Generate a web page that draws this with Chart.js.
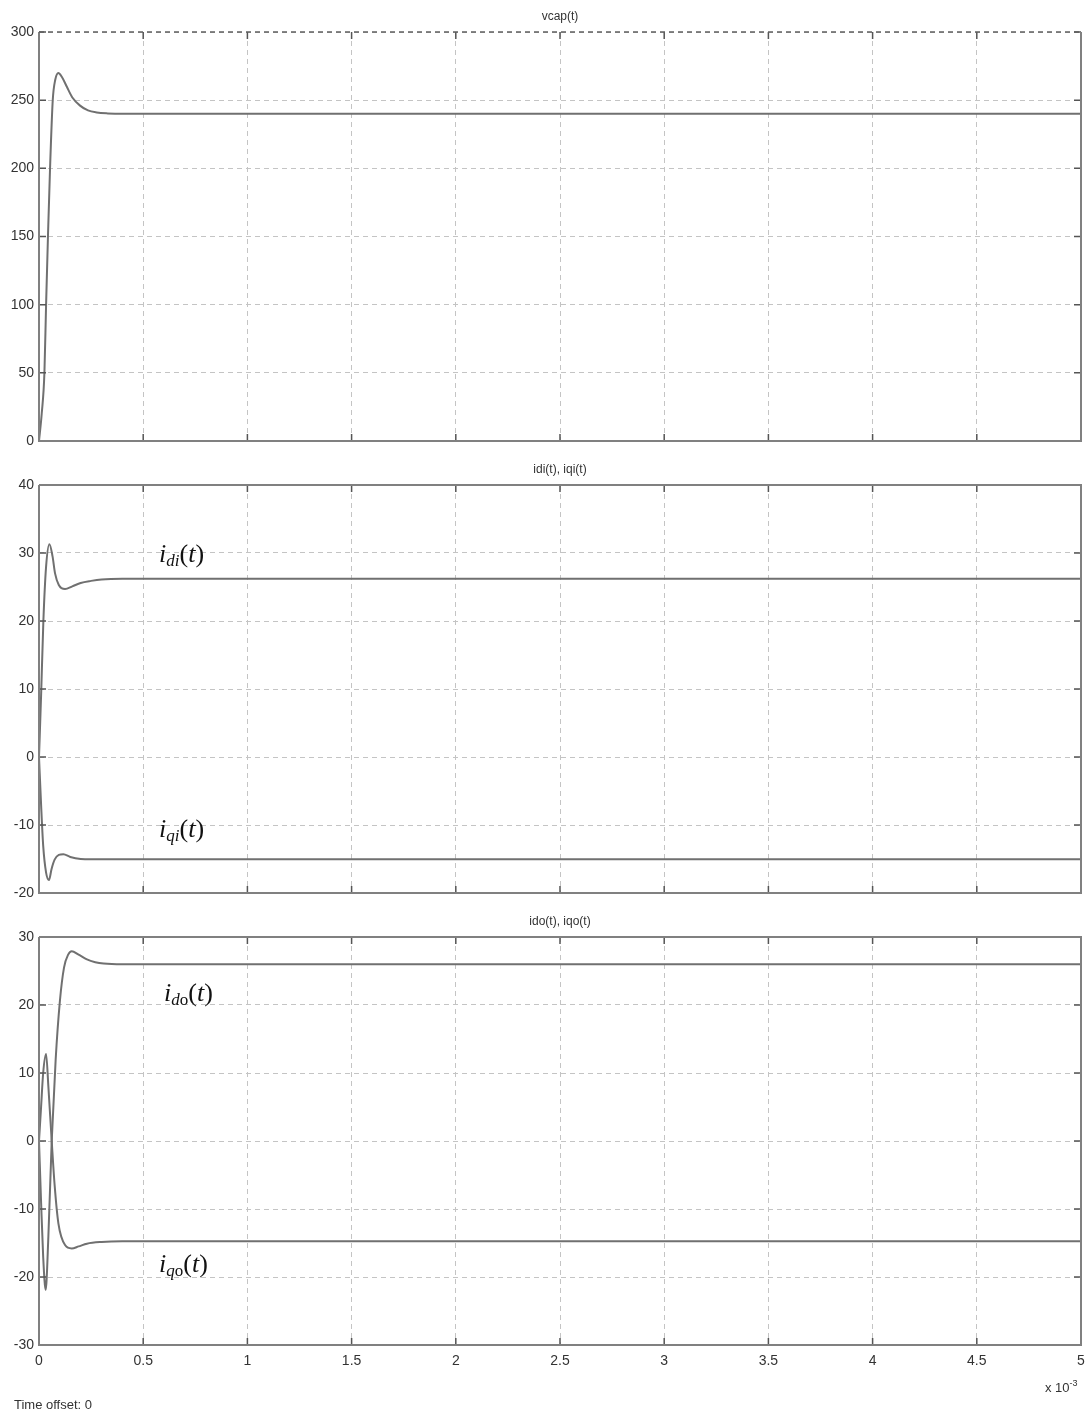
<!DOCTYPE html>
<html>
<head>
<meta charset="utf-8">
<script src="https://cdn.jsdelivr.net/npm/chart.js@4.4.1/dist/chart.umd.min.js"></script>
<style>
  body { margin: 0; width: 1089px; height: 1416px; background: #fff; position: relative; overflow: hidden;
         font-family: "Liberation Sans", Arial, sans-serif; color: #333; }
  .panel { position: absolute; left: 0; }
  .lbl { position: absolute; font-family: "Liberation Serif", "Times New Roman", serif; font-size: 26px;
         line-height: 26px; color: #111; white-space: nowrap; }
  .lbl i { font-style: italic; }
  .lbl sub { font-size: 17px; vertical-align: -4px; line-height: 0; }
  .note { position: absolute; font-size: 13px; color: #333; white-space: nowrap; }
  .note sup { font-size: 9px; vertical-align: 6px; line-height: 0; }
</style>
</head>
<body>
<div class="panel" style="top:0px"><canvas id="vcapChart" width="1089" height="460"></canvas></div>
<div class="panel" style="top:460px"><canvas id="iiChart" width="1089" height="450"></canvas></div>
<div class="panel" style="top:900px"><canvas id="ioChart" width="1089" height="516"></canvas></div>

<div class="lbl" style="left:159px; top:541px"><i>i<sub>di</sub></i>(<i>t</i>)</div>
<div class="lbl" style="left:159px; top:816px"><i>i<sub>qi</sub></i>(<i>t</i>)</div>
<div class="lbl" style="left:164px; top:980px"><i>i<sub>d</sub></i><sub>o</sub>(<i>t</i>)</div>
<div class="lbl" style="left:159px; top:1251px"><i>i<sub>q</sub></i><sub>o</sub>(<i>t</i>)</div>

<div class="note" style="left:1045px; top:1380px">x 10<sup>-3</sup></div>
<div class="note" style="left:14px; top:1397px">Time offset: 0</div>

<script>
// time axis is in ms (the "x 10^-3" under the last plot)
const xTickLabels = ['0', '0.5', '1', '1.5', '2', '2.5', '3', '3.5', '4', '4.5', '5'];

// vcap(t)
const vcapTime   = [0, 0.013, 0.026, 0.034, 0.043, 0.053, 0.066, 0.078, 0.093, 0.11, 0.133, 0.16, 0.197, 0.235, 0.277, 0.33, 0.4, 5];
const vcapValues = [0, 20, 50, 100, 150, 200, 250, 265, 270, 267, 260, 252, 246, 242.5, 241, 240.3, 240, 240];

// idi(t), iqi(t)
const idiTime   = [0, 0.01, 0.021, 0.034, 0.05, 0.065, 0.077, 0.095, 0.125, 0.16, 0.2, 0.25, 0.3, 0.4, 5];
const idiValues = [0, 9, 20, 28, 31.3, 29.5, 27, 25.3, 24.7, 25.1, 25.6, 25.9, 26.1, 26.2, 26.2];
const iqiTime   = [0, 0.01, 0.02, 0.034, 0.048, 0.06, 0.075, 0.095, 0.117, 0.15, 0.2, 0.25, 0.35, 5];
const iqiValues = [0, -7, -13, -17, -18.1, -16.5, -15.1, -14.4, -14.3, -14.7, -15, -15.05, -15.05, -15.05];

// ido(t), iqo(t)
const idoTime   = [0, 0.01, 0.02, 0.032, 0.045, 0.061, 0.08, 0.1, 0.12, 0.14, 0.157, 0.19, 0.23, 0.27, 0.31, 0.4, 5];
const idoValues = [0, -9, -17, -21.9, -14, 0, 12, 20.5, 25.5, 27.4, 27.9, 27.4, 26.7, 26.3, 26.1, 26, 26];
const iqoTime   = [0, 0.01, 0.02, 0.034, 0.045, 0.061, 0.075, 0.093, 0.125, 0.157, 0.19, 0.23, 0.3, 0.4, 5];
const iqoValues = [0, 5, 10, 12.8, 8, 0, -6.5, -12.1, -15.3, -15.8, -15.5, -15.1, -14.85, -14.75, -14.75];

const lineColor = '#707070';
const gridColor = '#c4c4c4';

function toPoints(times, values) {
    return times.map((t, i) => ({ x: t, y: values[i] }));
}

function series(times, values) {
    return {
        data: toPoints(times, values),
        borderColor: lineColor,
        borderWidth: 2,
        pointRadius: 0,
        cubicInterpolationMode: 'monotone',
        fill: false
    };
}

// box round the plot, small inner tick marks and the title above it
const framePlugin = {
    id: 'frame',
    afterDraw(chart, args, opts) {
        const ctx = chart.ctx;
        const a = chart.chartArea;
        const xs = chart.scales.x, ys = chart.scales.y;
        ctx.save();
        ctx.strokeStyle = '#555';
        ctx.lineWidth = 1.5;
        ctx.beginPath();
        xs.ticks.forEach(t => {
            const x = xs.getPixelForValue(t.value);
            ctx.moveTo(x, a.bottom); ctx.lineTo(x, a.bottom - 7);
            ctx.moveTo(x, a.top); ctx.lineTo(x, a.top + 7);
        });
        ys.ticks.forEach(t => {
            const y = ys.getPixelForValue(t.value);
            ctx.moveTo(a.left, y); ctx.lineTo(a.left + 7, y);
            ctx.moveTo(a.right, y); ctx.lineTo(a.right - 7, y);
        });
        ctx.stroke();

        ctx.strokeStyle = '#808080';
        ctx.lineWidth = 2;
        ctx.beginPath();
        ctx.moveTo(a.left, a.top); ctx.lineTo(a.left, a.bottom);
        ctx.lineTo(a.right, a.bottom); ctx.lineTo(a.right, a.top);
        if (!opts.dashedTop) ctx.lineTo(a.left, a.top);
        ctx.stroke();
        if (opts.dashedTop) {
            ctx.strokeStyle = '#606060';
            ctx.lineWidth = 1.5;
            ctx.setLineDash([5, 4]);
            ctx.beginPath();
            ctx.moveTo(a.left, a.top); ctx.lineTo(a.right, a.top);
            ctx.stroke();
            ctx.setLineDash([]);
        }

        ctx.fillStyle = '#333';
        ctx.font = '12px "Liberation Sans", Arial, sans-serif';
        ctx.textAlign = 'center';
        ctx.textBaseline = 'middle';
        ctx.fillText(opts.title, (a.left + a.right) / 2, a.top - 15);
        ctx.restore();
    }
};

function makeChart(id, datasets, yMin, yMax, yStep, showX, padTop, padBottom, title, dashedTop) {
    const canvas = document.getElementById(id).getContext('2d');
    return new Chart(canvas, {
        type: 'line',
        data: { datasets: datasets },
        options: {
            responsive: false,
            animation: false,
            events: [],
            layout: { padding: { left: 0, right: 8, top: padTop, bottom: padBottom } },
            plugins: {
                legend: { display: false },
                tooltip: { enabled: false },
                frame: { title: title, dashedTop: dashedTop }
            },
            scales: {
                x: {
                    type: 'linear',
                    min: 0,
                    max: 5,
                    afterFit: s => {
                        s.height = showX ? 40 : 0;
                        s.paddingLeft = 0;
                        s.paddingRight = 0;
                    },
                    ticks: {
                        display: showX,
                        stepSize: 0.5,
                        padding: 8,
                        maxRotation: 0,
                        autoSkip: false,
                        color: '#333',
                        font: { family: '"Liberation Sans", Arial, sans-serif', size: 14 },
                        callback: (v, i) => xTickLabels[i]
                    },
                    grid: { color: gridColor, lineWidth: 1, drawTicks: false },
                    border: { display: false, dash: [5, 4] }
                },
                y: {
                    min: yMin,
                    max: yMax,
                    afterFit: s => {
                        s.width = 39;
                        s.paddingTop = 0;
                        s.paddingBottom = 0;
                    },
                    ticks: {
                        stepSize: yStep,
                        padding: 5,
                        color: '#333',
                        font: { family: '"Liberation Sans", Arial, sans-serif', size: 14 }
                    },
                    grid: { color: gridColor, lineWidth: 1, drawTicks: false },
                    border: { display: false, dash: [5, 4] }
                }
            }
        },
        plugins: [framePlugin]
    });
}

makeChart('vcapChart', [series(vcapTime, vcapValues)], 0, 300, 50, false, 32, 19, 'vcap(t)', true);
makeChart('iiChart', [series(idiTime, idiValues), series(iqiTime, iqiValues)], -20, 40, 10, false, 25, 17, 'idi(t), iqi(t)', false);
makeChart('ioChart', [series(idoTime, idoValues), series(iqoTime, iqoValues)], -30, 30, 10, true, 37, 31, 'ido(t), iqo(t)', false);
</script>
</body>
</html>
